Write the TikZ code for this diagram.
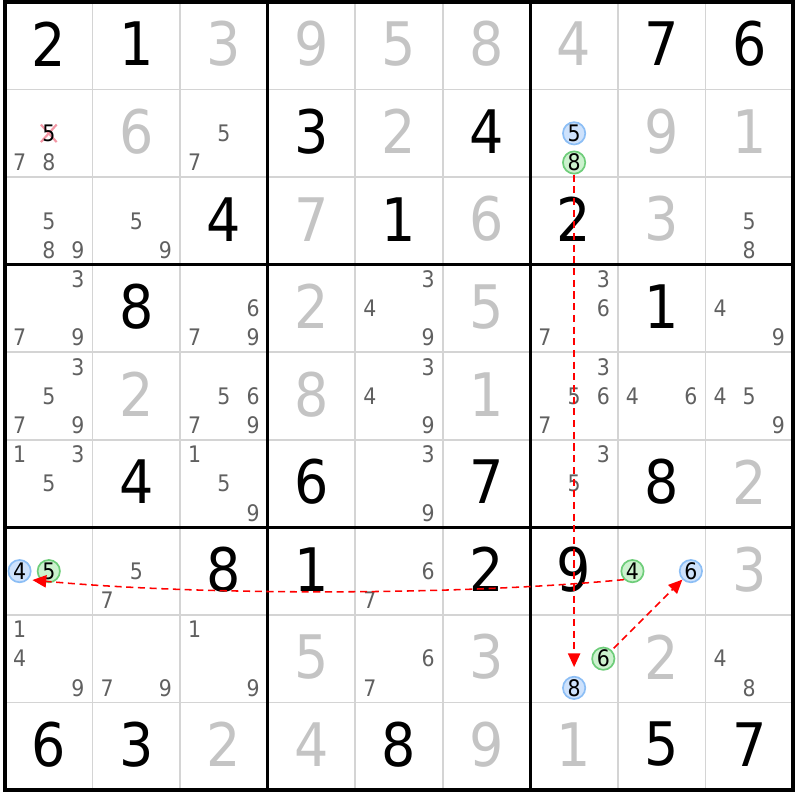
\documentclass[tikz,border=0pt]{standalone}
\usepackage{fontspec}
\setmainfont{DejaVu Sans}[FakeStretch=0.9]
\usepackage{xcolor}
\usetikzlibrary{arrows.meta}
\definecolor{solved}{RGB}{196,196,196}
\definecolor{candgray}{RGB}{96,96,96}
\definecolor{gridgray}{RGB}{212,212,212}
\definecolor{bluefill}{RGB}{206,226,252}
\definecolor{blueedge}{RGB}{140,190,245}
\definecolor{greenfill}{RGB}{204,242,206}
\definecolor{greenedge}{RGB}{110,205,122}
\definecolor{strike}{RGB}{242,150,164}

\begin{document}
\begin{tikzpicture}[x=1cm, y=1cm]
    \tikzstyle{given}=[font=\fontsize{19.5}{19.5}\selectfont, inner sep=0, yshift=.02cm]
    \tikzstyle{solveddigit}=[given, text=solved]
    \tikzstyle{cand}=[font=\fontsize{7.4}{7.4}\selectfont, text=candgray, inner sep=0]
    \tikzstyle{bluecand}=[cand, circle, text=black, draw=blueedge, fill=bluefill, line width=.55pt, minimum size=.255cm]
    \tikzstyle{greencand}=[bluecand, draw=greenedge, fill=greenfill]
    \tikzstyle{link}=[red, line width=.5pt, dash pattern=on 2.3pt off 1.5pt, -{Triangle[length=4.5pt,width=4pt]}]
    \useasboundingbox (-0.057,-0.114) rectangle (9.057,9.023);

    \foreach \i in {1,2,4,5,7,8}
        \draw[gridgray, line width=.5pt] (\i,0) -- (\i,9) (0,\i) -- (9,\i);
    \foreach \i in {3,6}
        \draw[line width=1pt] (\i,0) -- (\i,9) (0,\i) -- (9,\i);
    \draw[line width=1pt] (0,0) rectangle (9,9);

    % givens and solved cells
    \foreach \r/\c/\d in {0/0/2, 0/1/1, 0/7/7, 0/8/6, 1/3/3, 1/5/4, 2/2/4, 2/4/1, 2/6/2,
        3/1/8, 3/7/1, 5/1/4, 5/3/6, 5/5/7, 5/7/8, 6/2/8, 6/3/1, 6/5/2, 6/6/9,
        8/0/6, 8/1/3, 8/4/8, 8/7/5, 8/8/7}
        \node[given] (g\r\c) at (\c+.5,8.5-\r) {\d};
    \foreach \r/\c/\d in {0/2/3, 0/3/9, 0/4/5, 0/5/8, 0/6/4, 1/1/6, 1/4/2, 1/7/9, 1/8/1,
        2/3/7, 2/5/6, 2/7/3, 3/3/2, 3/5/5, 4/1/2, 4/3/8, 4/5/1, 5/8/2, 6/8/3,
        7/3/5, 7/5/3, 7/7/2, 8/2/2, 8/3/4, 8/5/9, 8/6/1}
        \node[solveddigit] (s\r\c) at (\c+.5,8.5-\r) {\d};

    % candidates
    \foreach \r/\c/\ds in {1/0/{7,8}, 1/2/{5,7}, 2/0/{5,8,9}, 2/1/{5,9}, 2/8/{5,8},
        3/0/{3,7,9}, 3/2/{6,7,9}, 3/4/{3,4,9}, 3/6/{3,6,7}, 3/8/{4,9},
        4/0/{3,5,7,9}, 4/2/{5,6,7,9}, 4/4/{3,4,9}, 4/6/{3,5,6,7}, 4/7/{4,6}, 4/8/{4,5,9},
        5/0/{1,3,5}, 5/2/{1,5,9}, 5/4/{3,9}, 5/6/{3,5}, 6/1/{5,7}, 6/4/{6,7},
        7/0/{1,4,9}, 7/1/{7,9}, 7/2/{1,9}, 7/4/{6,7}, 7/8/{4,8}}
        \foreach \d in \ds {
            \pgfmathsetmacro\cx{\c+(mod(\d-1,3)+.5)/3}
            \pgfmathsetmacro\cy{9-\r-(int((\d-1)/3)+.5)/3}
            \node[cand] (k\r\c\d) at (\cx,\cy) {\d};
        }

    \draw[strike, line width=.7pt] (.41,7.4) -- (.59,7.6) (.41,7.6) -- (.59,7.4);
    \node[cand, text=black] (k105) at (.5,7.5) {5};

    \node[bluecand] (r1c6n5) at (6.5,7.5) {5};
    \node[greencand] (r1c6n8) at (6.5,7.1667) {8};
    \node[bluecand] (r6c0n4) at (.1667,2.5) {4};
    \node[greencand] (r6c0n5) at (.5,2.5) {5};
    \node[greencand] (r6c7n4) at (7.1667,2.5) {4};
    \node[bluecand] (r6c7n6) at (7.8333,2.5) {6};
    \node[greencand] (r7c6n6) at (6.8333,1.5) {6};
    \node[bluecand] (r7c6n8) at (6.5,1.1667) {8};

    \draw[link, shorten >=.1cm] (r1c6n8) -- (r7c6n8);
    \draw[link, shorten >=.05cm] (r6c7n4.225) .. controls (5.18,2.22) and (2.22,2.22) .. (r6c0n4.-45);
    \draw[link, shorten <=.03cm] (r7c6n6) -- (r6c7n6);
\end{tikzpicture}
\end{document}
